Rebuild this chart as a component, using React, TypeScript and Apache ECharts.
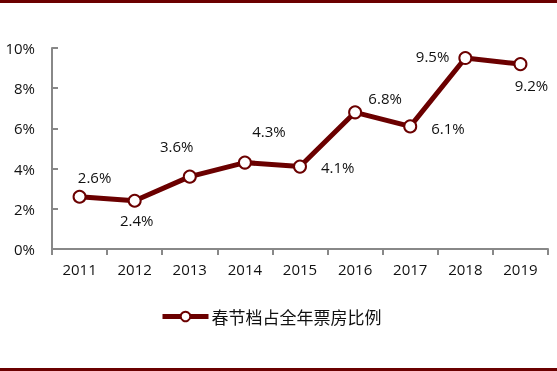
import React, { useEffect, useRef } from "react";
import * as echarts from "echarts";

const years = ["2011", "2012", "2013", "2014", "2015", "2016", "2017", "2018", "2019"];
const shares = [2.6, 2.4, 3.6, 4.3, 4.1, 6.8, 6.1, 9.5, 9.2];
const labelPos = ["top", "bottom", "top", "top", "right", "top", "right", "left", "bottom"];
const labelOffset: number[][] = [[15, 0], [2, 0], [-13, -11], [24, -12], [9, 0], [30, 5], [9, 2], [-4, -2], [11, 1]];
const seriesName = "春节档占全年票房比例";
const RED = "#6B0000";

export default function App() {
  const ref = useRef<HTMLDivElement>(null);
  useEffect(() => {
    const chart = echarts.init(ref.current!, null, { renderer: "svg" });
    chart.setOption({
      animation: false,
      textStyle: { fontFamily: "Open Sans" },
      grid: { left: 52, right: 9, top: 48, bottom: 122 },
      legend: {
        left: 155,
        top: 303,
        itemWidth: 46,
        itemHeight: 12,
        itemGap: 4,
        lineStyle: { width: 5 },
        textStyle: { fontFamily: "Noto Sans CJK SC", fontSize: 17, color: "#111", padding: [0, 0, 0, -2] },
        data: [seriesName],
      },
      xAxis: {
        type: "category",
        data: years,
        boundaryGap: true,
        axisLine: { lineStyle: { color: "#888", width: 2 } },
        axisTick: { show: true, inside: false, length: 6, lineStyle: { color: "#888", width: 2 } },
        axisLabel: { color: "#111", fontSize: 15, margin: 12, fontFamily: "Open Sans" },
      },
      yAxis: {
        type: "value",
        min: 0,
        max: 10,
        interval: 2,
        axisLine: { show: true, lineStyle: { color: "#888", width: 2 } },
        axisTick: { show: true, inside: true, length: 6, lineStyle: { color: "#888", width: 2 } },
        splitLine: { show: false },
        axisLabel: { color: "#111", fontSize: 15, margin: 17, formatter: "{value}%", fontFamily: "Open Sans" },
      },
      series: [
        {
          name: seriesName,
          type: "line",
          data: shares.map((v, i) => ({
            value: v,
            label: { position: labelPos[i], offset: labelOffset[i] },
          })),
          symbol: "circle",
          symbolSize: 12,
          showAllSymbol: true,
          lineStyle: { color: RED, width: 5 },
          itemStyle: { color: "#fff", borderColor: RED, borderWidth: 2 },
          label: {
            show: true,
            formatter: (p: any) => p.value.toFixed(1) + "%",
            fontSize: 15,
            color: "#111",
            fontFamily: "Open Sans",
            distance: 5,
          },
        },
      ],
      graphic: [
        { type: "rect", left: 0, top: 0, shape: { width: 557, height: 3 }, style: { fill: RED } },
        { type: "rect", left: 0, top: 368, shape: { width: 557, height: 3 }, style: { fill: RED } },
      ],
    });
    return () => chart.dispose();
  }, []);
  return <div ref={ref} style={{ width: 557, height: 371, position: "fixed", left: 0, top: 0 }} />;
}
